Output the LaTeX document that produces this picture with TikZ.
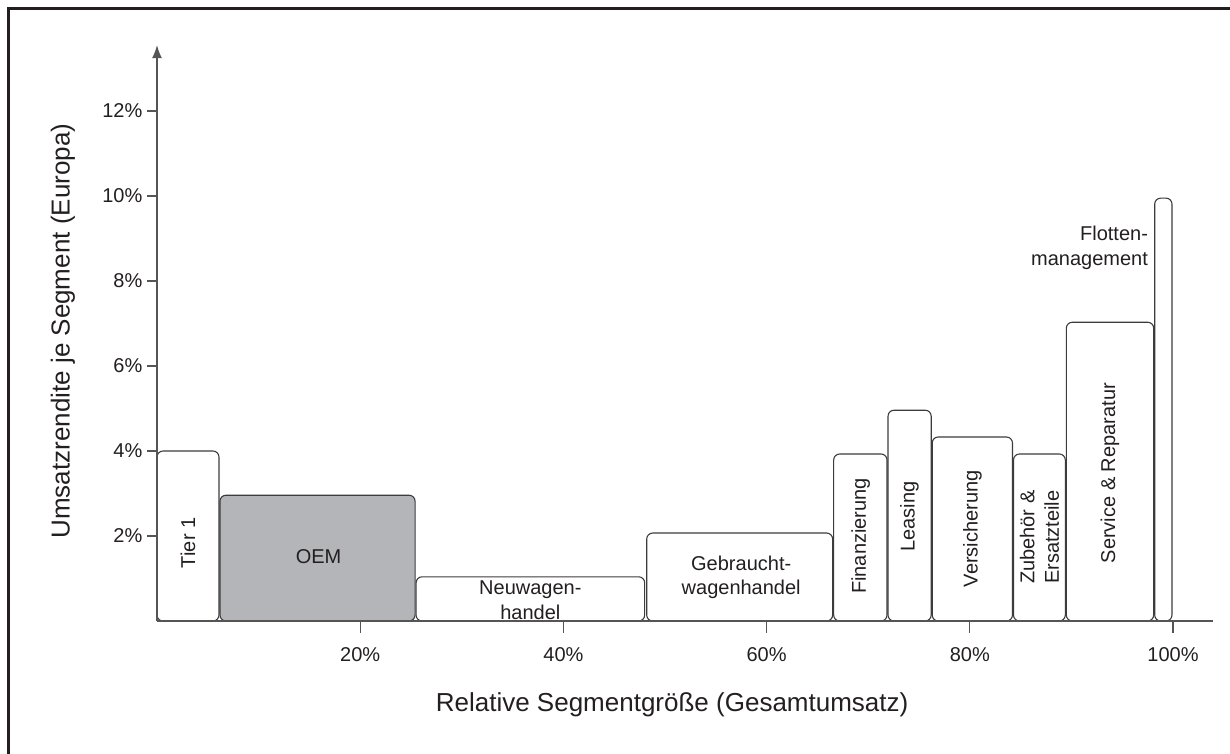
\documentclass[tikz,border=0pt]{standalone}
\usepackage{fontspec}
\setmainfont{Liberation Sans}
\usetikzlibrary{arrows.meta}
\definecolor{textblack}{RGB}{35,31,32}
\definecolor{linegray}{RGB}{60,60,60}
\definecolor{axisgray}{RGB}{85,85,85}
\definecolor{oemgray}{RGB}{180,181,184}

\begin{document}
\begin{tikzpicture}[
        x=10.16pt, y=42.5pt,
        font=\fontsize{20}{24.5}\selectfont, text=textblack,
        bar/.style={draw=linegray, line width=1.1pt, rounded corners=6pt, fill=#1},
        bar/.default=white,
        axis/.style={draw=axisgray, line width=1.2pt},
        frame/.style={draw=textblack, line width=3pt},
        lbl/.style={inner sep=0pt, align=center},
        vlbl/.style={inner sep=0pt, rotate=90, align=left},
        ticklbl/.style={inner sep=0pt},
        axislbl/.style={inner sep=0pt, font=\fontsize{26}{30}\selectfont}
    ]
        \useasboundingbox (-15.453,-3.129) rectangle (105.61,14.612);
        \draw[frame] (-14.6,-4) -- (-14.6,14.41) -- (107,14.41);

        % segments: width = share of revenue, height = margin
        \draw[bar] (0,0) rectangle (6.1,4.0);
        \draw[bar=oemgray] (6.2,0) rectangle (25.4,2.96);
        \draw[bar] (25.5,0) rectangle (48.0,1.04);
        \draw[bar] (48.2,0) rectangle (66.5,2.07);
        \draw[bar] (66.6,0) rectangle (71.85,3.93);
        \draw[bar] (71.95,0) rectangle (76.2,4.96);
        \draw[bar] (76.3,0) rectangle (84.2,4.33);
        \draw[bar] (84.3,0) rectangle (89.4,3.93);
        \draw[bar] (89.5,0) rectangle (98.1,7.03);
        \draw[bar] (98.2,0) rectangle (99.9,9.95);

        \node[vlbl] (tier) at (3.05,1.84) {Tier 1};
        \node[lbl] (oem) at (15.9,1.52) {OEM};
        \node[lbl] (neuwagen) at (36.75,0.49) {Neuwagen-\\handel};
        \node[lbl] (gebraucht) at (57.5,1.03) {Gebraucht-\\wagenhandel};
        \node[vlbl] (finanz) at (69.25,2.0) {Finanzierung};
        \node[vlbl] (leasing) at (74.07,2.46) {Leasing};
        \node[vlbl] (versich) at (80.25,2.17) {Versicherung};
        \node[vlbl] (zubehoer) at (86.85,1.97) {Zubehör \&\\Ersatzteile};
        \node[vlbl] (service) at (93.8,3.48) {Service \& Reparatur};
        \node[lbl, align=right, anchor=east] (flotten) at (97.55,8.78) {Flotten-\\management};

        % axes
        \coordinate (o) at (0,0);
        \coordinate (ytip) at (0,13.55);
        \coordinate (xend) at (103.9,0);
        \draw[axis, -{Latex[length=13pt, width=10pt]}] (o) -- (ytip);
        \draw[axis] (o) -- (xend);

        \foreach \v in {2,4,...,12}
            \draw[axis] (0,\v) -- ++(-10pt,0) node[ticklbl, left=4pt] (yt\v) {\v\%};
        \foreach \v in {20,40,...,100} {
            \draw[axis] (\v,0) -- ++(0,-12pt);
            \node[ticklbl] (xt\v) at (\v,-0.79) {\v\%};
        }

        \node[axislbl] (xlabel) at (50.7,-1.98) {Relative Segmentgröße (Gesamtumsatz)};
        \node[axislbl, rotate=90] (ylabel) at (-9.25,6.82) {Umsatzrendite je Segment (Europa)};
    \end{tikzpicture}
\end{document}
